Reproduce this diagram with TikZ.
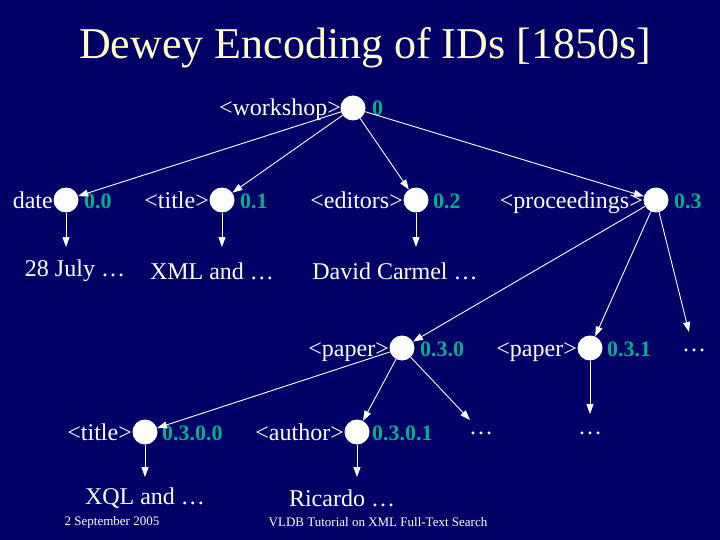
\documentclass[tikz,border=0pt]{standalone}
\usepackage{fontspec}
\setmainfont{Liberation Serif}
\usetikzlibrary{arrows.meta}
\definecolor{bg}{RGB}{0,0,102}
\definecolor{ttl}{RGB}{255,255,204}
\definecolor{grn}{RGB}{0,175,140}
\begin{document}
\begin{tikzpicture}[x=1pt,y=-1pt,
  dot/.style={circle,fill=white,inner sep=0pt,minimum size=25pt},
  lbl/.style={text=white,font=\fontsize{24}{26}\selectfont,inner sep=0pt},
  num/.style={text=grn,font=\bfseries\fontsize{22}{24}\selectfont,inner sep=0pt},
  le/.style={lbl,anchor=base east,yshift=-8pt},
  nw/.style={num,anchor=base west,yshift=-8pt},
  arr/.style={white,line width=0.9pt,-{Triangle[length=10pt,width=7pt]}}]
\fill[bg] (0,0) rectangle (720,540);
\useasboundingbox (0,0) rectangle (720,540);
\node[text=ttl,font=\fontsize{44}{48}\selectfont] (title) at (365,48) {Dewey Encoding of IDs [1850s]};
% nodes
\node[dot] (w) at (353,108) {};
\node[le] (wl) at (341,108) {<workshop>};
\node[nw] (wn) at (372,108) {0};
\node[dot] (d) at (66,200) {};
\node[le] (dl) at (53,200) {date};
\node[nw] (dn) at (84,200) {0.0};
\node[dot] (t) at (222,200) {};
\node[le] (tl) at (209,200) {<title>};
\node[nw] (tn) at (240,200) {0.1};
\node[dot] (e) at (416,200) {};
\node[le] (el) at (403,200) {<editors>};
\node[nw] (en) at (433,200) {0.2};
\node[dot] (p) at (656,200) {};
\node[le] (pl) at (643,200) {<proceedings>};
\node[nw] (pn) at (674,200) {0.3};
\node[lbl] (dv) at (75,271) {28 July \dots};
\node[lbl] (tv) at (212,271) {XML and \dots};
\node[lbl] (ev) at (395,271) {David Carmel \dots};
\node[dot] (p0) at (402,348) {};
\node[le] (p0l) at (389,348) {<paper>};
\node[nw] (p0n) at (420,348) {0.3.0};
\node[dot] (p1) at (590,348) {};
\node[le] (p1l) at (577,348) {<paper>};
\node[nw] (p1n) at (607,348) {0.3.1};
\node[lbl] (pe) at (694,350) {\dots};
\node[dot] (t2) at (145,432) {};
\node[le] (t2l) at (132,432) {<title>};
\node[nw] (t2n) at (162,432) {0.3.0.0};
\node[dot] (a) at (357,432) {};
\node[le] (al) at (344,432) {<author>};
\node[nw] (an) at (372,432) {0.3.0.1};
\node[lbl] (p0e) at (481,433) {\dots};
\node[lbl] (p1e) at (590,433) {\dots};
\node[lbl] (t2v) at (145,498) {XQL and \dots};
\node[lbl] (av) at (342,498) {Ricardo \dots};
\node[text=white,font=\fontsize{13}{15}\selectfont] (f1) at (112,522) {2 September 2005};
\node[text=white,font=\fontsize{13}{15}\selectfont] (f2) at (378,522) {VLDB Tutorial on XML Full-Text Search};
\coordinate (pee) at (689,332);
\coordinate (p0ee) at (470,420);
\coordinate (p1ee) at (590,414);
% arrows
\draw[arr] (w) -- (d);
\draw[arr] (w) -- (t);
\draw[arr] (w) -- (e);
\draw[arr] (w) -- (p);
\draw[arr] (d) -- ++(0,47);
\draw[arr] (t) -- ++(0,47);
\draw[arr] (e) -- ++(0,47);
\draw[arr] (p) -- (p0);
\draw[arr] (p) -- (p1);
\draw[arr] (p) -- (pee);
\draw[arr] (p0) -- (t2);
\draw[arr] (p0) -- (a);
\draw[arr] (p0) -- (p0ee);
\draw[arr] (p1) -- (p1ee);
\draw[arr] (t2) -- ++(0,45);
\draw[arr] (a) -- ++(0,45);
\end{tikzpicture}
\end{document}
